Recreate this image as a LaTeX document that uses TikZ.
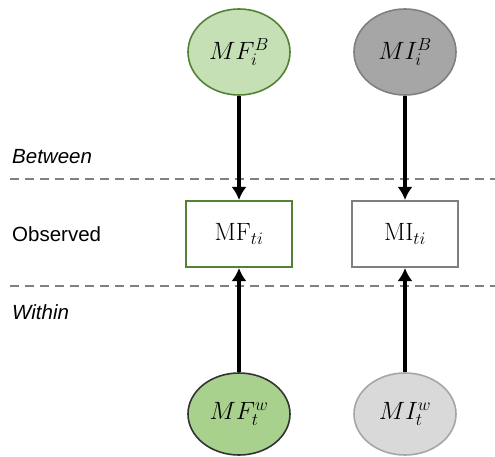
\RequirePackage{fix-cm}
\documentclass[tikz,border=0pt]{standalone}
\usepackage[no-math]{fontspec}
\setmainfont{Liberation Sans}
\usetikzlibrary{arrows.meta, positioning, shapes.geometric}

\definecolor{mfgreen}{HTML}{548235}
\definecolor{mflight}{HTML}{C5E0B4}
\definecolor{mfmid}{HTML}{A9D18E}
\definecolor{midark}{HTML}{A6A6A6}
\definecolor{miline}{HTML}{7F7F7F}
\definecolor{milight}{HTML}{D9D9D9}

\begin{document}
\begin{tikzpicture}[
        x=1pt, y=-1pt,
        latent/.style={ellipse, minimum width=102pt, minimum height=86pt, inner sep=0pt, line width=1.6pt,
            font=\fontsize{25}{30}\selectfont},
        observed/.style={rectangle, minimum width=106pt, minimum height=66pt, inner sep=0pt, line width=2pt,
            fill=white, font=\fontsize{25}{30}\selectfont},
        lvl/.style={anchor=west, inner sep=0pt, font=\fontsize{20.5}{24}\selectfont},
        link/.style={line width=3.2pt, -{Latex[length=13pt, width=15pt]}},
        sep/.style={draw=gray, line width=1.3pt, dash pattern=on 9pt off 6pt}
    ]
        \useasboundingbox (0,0) rectangle (495,457);

        % Trennlinien
        \draw[sep] (10,179) -- (495,179);
        \draw[sep] (10,286) -- (495,286);

        % Ebenen
        \node[lvl] (between) at (12,157) {\itshape Between};
        \node[lvl] (obs) at (12,234) {Observed};
        \node[lvl] (within) at (12,312) {\itshape Within};

        % Beobachtete Variablen
        \node[observed, draw=mfgreen] (MFti) at (239,234) {$\mathrm{MF}_{ti}$};
        \node[observed, draw=miline] (MIti) at (405,234) {$\mathrm{MI}_{ti}$};

        % Between-Komponenten
        \node[latent, draw=mfgreen, fill=mflight] (MFB) at (239,52) {$MF_i^B$};
        \node[latent, draw=miline, fill=midark] (MIB) at (405,52) {$MI_i^B$};

        % Within-Komponenten
        \node[latent, draw=black!80, fill=mfmid, minimum height=82pt] (MFw) at (239,414) {$MF_t^w$};
        \node[latent, draw=midark, fill=milight, minimum height=82pt] (MIw) at (405,414) {$MI_t^w$};

        % Pfeile
        \draw[link] (MFB) -- (MFti);
        \draw[link] (MIB) -- (MIti);
        \draw[link] (MFw) -- (MFti);
        \draw[link] (MIw) -- (MIti);
    \end{tikzpicture}
\end{document}
